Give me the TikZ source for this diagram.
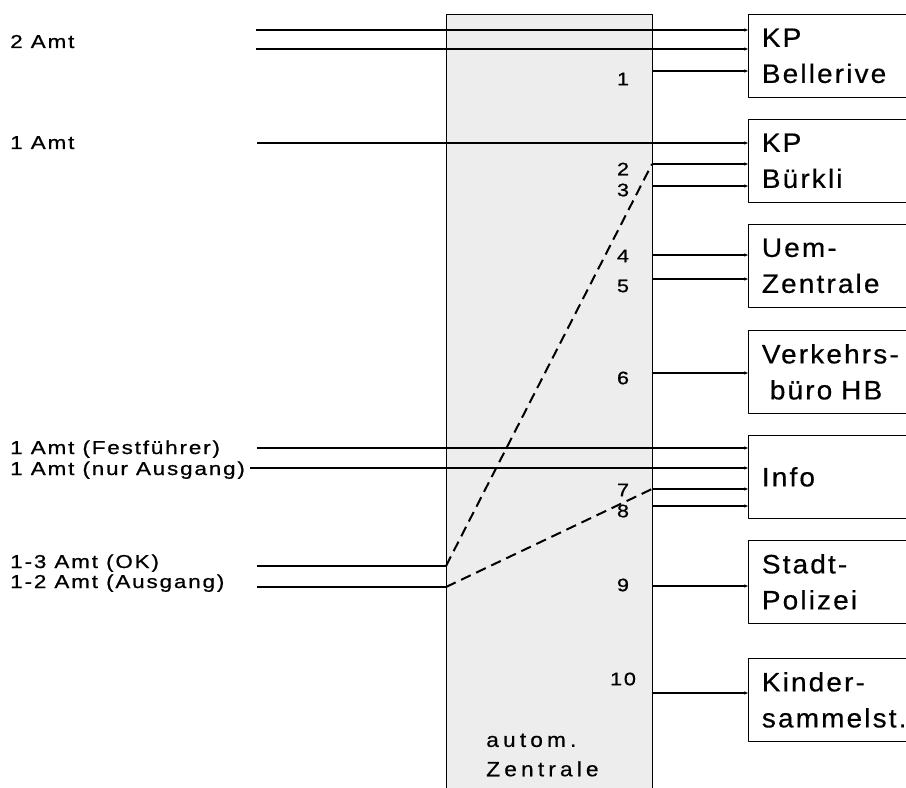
\documentclass[tikz,border=0pt]{standalone}
\usepackage{fontspec}
\setmainfont{Liberation Sans}
\newfontfamily\leitfont[FakeStretch=1.2,LetterSpace=10,FakeBold=0.8]{Liberation Sans}
\newfontfamily\zielfont[FakeStretch=1.05,LetterSpace=8,FakeBold=0.5]{Liberation Sans}
\newfontfamily\zentfont[FakeStretch=1.1,LetterSpace=20,FakeBold=0.5]{Liberation Sans}
\usetikzlibrary{arrows.meta}
\tikzset{
	ziel/.style={draw, line width=0.8pt, anchor=north west, minimum width=140pt, minimum height=62pt,
		text width=120pt, align=left, inner xsep=8pt, font=\zielfont\fontsize{20}{27}\selectfont},
	amt/.style={anchor=base west, inner sep=0pt, font=\leitfont\fontsize{14}{16}\selectfont},
	nr/.style={inner sep=0pt, font=\leitfont\fontsize{13.5}{15}\selectfont},
	leit/.style={line width=1.4pt, ->},
	strich/.style={line width=1.5pt, dash pattern=on 8pt off 4.5pt},
}
\begin{document}
\begin{tikzpicture}[x=0.75pt, y=-0.75pt, >={Stealth[length=3pt,width=2.5pt]}, line join=round]
	\useasboundingbox (0,0) rectangle (906,788);
	\clip (0,0) rectangle (906,788);
	\def\xl{446} \def\xr{652}
	% autom. Zentrale
	\fill[black!7] (\xl,14) rectangle (\xr,788);
	\draw[line width=0.6pt] (\xl,788) -- (\xl,14) -- (\xr,14) -- (\xr,788);
	\node[anchor=west, inner sep=0pt, align=left, font=\zentfont\fontsize{15.5}{22}\selectfont] (zent) at (486,755) {autom.\\Zentrale};
	% Ziele
	\node[ziel] (bel) at (748,14) {KP\\Bellerive};
	\node[ziel] (buer) at (748,119) {KP\\B\"urkli};
	\node[ziel] (uem) at (748,224) {Uem-\\Zentrale};
	\node[ziel] (vkb) at (748,330) {Verkehrs-\\\hspace{0.3em}b\"uro HB};
	\node[ziel] (info) at (748,435) {Info};
	\node[ziel] (pol) at (748,540) {Stadt-\\Polizei};
	\node[ziel] (kind) at (748,658) {Kinder-\\sammelst.};
	% Amtsleitungen
	\node[amt] (a2) at (10,48) {2 Amt};
	\node[amt] (a1) at (10,149) {1 Amt};
	\node[amt] (afest) at (10,454) {1 Amt (Festf\"uhrer)};
	\node[amt] (anur) at (10,475) {1 Amt (nur Ausgang)};
	\node[amt] (aok) at (10,568) {1-3 Amt (OK)};
	\node[amt] (aaus) at (10,588) {1-2 Amt (Ausgang)};
	\foreach \y/\xa/\z in {30/256/bel,49/256/bel,143/257/buer,448/257/info,468/250/info}
	{\coordinate (e\y) at (\xa,\y);
		\draw[leit] (e\y) -- (e\y -| \z.west);}
	% Anschluesse
	\foreach \n/\y/\ny/\z in {1/71/79/bel,2/164/169/buer,3/186/190/buer,4/255/256/uem,5/279/286/uem,
		6/373/378/vkb,7/489/490/info,8/506/511/info,9/586/585/pol,10/693/679/kind}
	{\coordinate (p\n) at (\xr,\y);
		\node[nr] (n\n) at (623,\ny) {\n};
		\draw[leit] (p\n) -- (p\n -| \z.west);}
	\coordinate (okin) at (257,566); \coordinate (ok) at (\xl,566);
	\coordinate (ausin) at (257,587); \coordinate (aus) at (\xl,587);
	\draw[line width=1.4pt] (okin) -- (ok);
	\draw[line width=1.4pt] (ausin) -- (aus);
	\draw[strich] (ok) -- (p2);
	\draw[strich] (aus) -- (p7);
\end{tikzpicture}
\end{document}
